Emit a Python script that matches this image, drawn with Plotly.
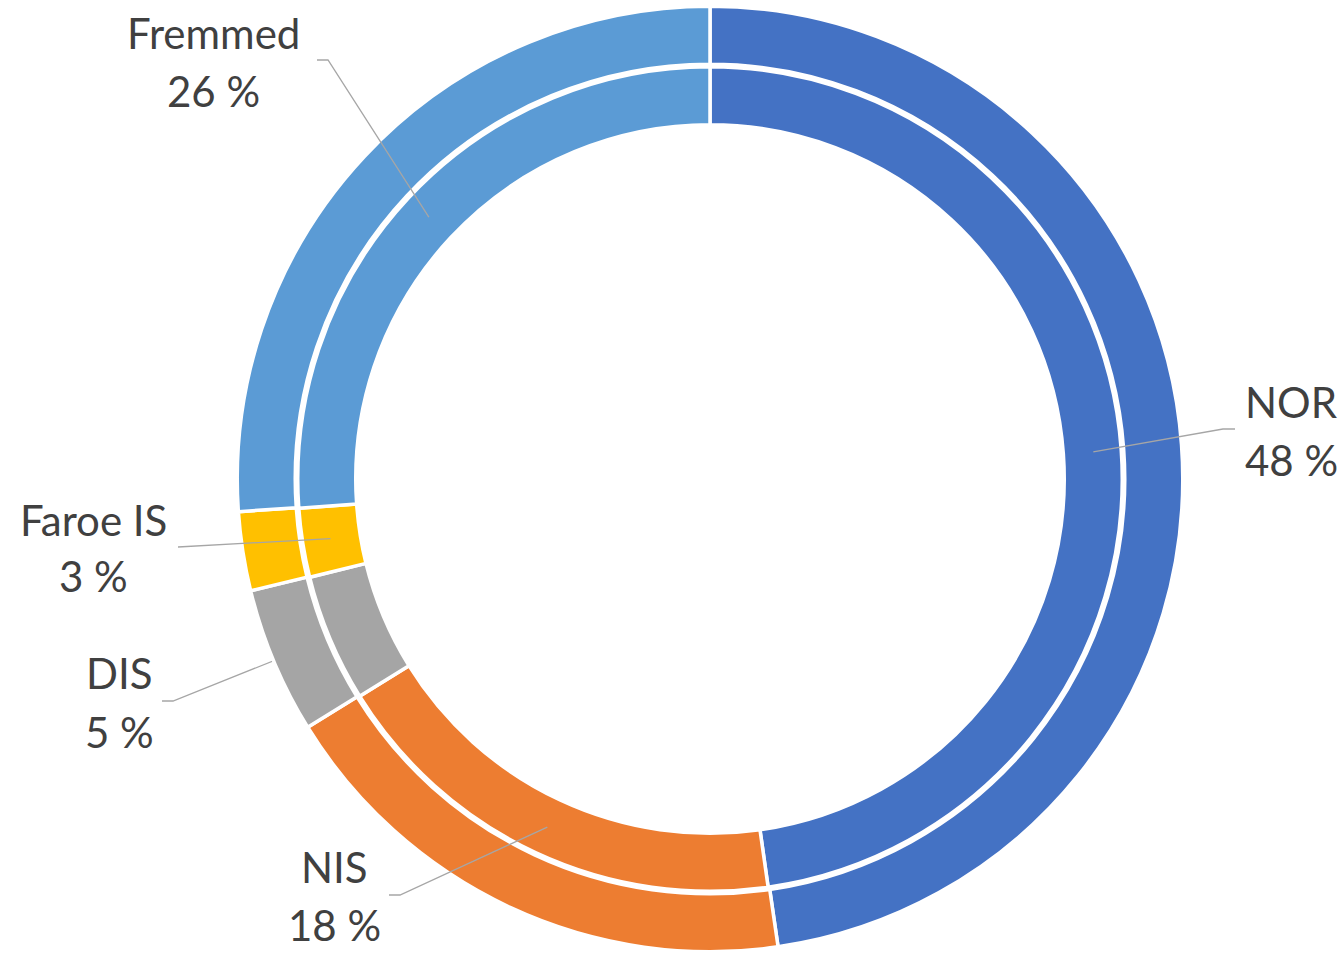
"""Dobbel smultringdiagram — fordeling på register (ytre og indre ring)"""
import math

import plotly.graph_objects as go

# ── Data ──
kategorier = ["NOR", "NIS", "DIS", "Faroe IS", "Fremmed"]
ytre_andel = [47.7, 18.5, 5.0, 2.7, 26.1]
indre_andel = [47.7, 18.4, 5.0, 2.7, 26.1]
farger = ["#4472C4", "#ED7D31", "#A5A5A5", "#FFC000", "#5B9BD5"]

# ── Geometri (piksler) ──
W, H = 1344, 953
CX, CY = 710, 479
R_YTRE, HULL_YTRE = 472.75, 414.75
R_INDRE, HULL_INDRE = 412.25, 354.25
STREK = 3.5

# etikettplassering: (tekst x, navn y, verdi y, start linje, knekkpunkt, under ring?)
etikett_pos = {
    "NOR": (1291, 402, 460, (1235, 429), (1223, 429), False),
    "NIS": (334, 867, 925, (389, 895), (400, 895), False),
    "DIS": (119, 673, 732, (162, 701), (173, 701), True),
    "Faroe IS": (93, 520, 576, (178, 547), (178, 547), False),
    "Fremmed": (213, 33, 91, (317, 60), (328, 60), False),
}


def px(x, y):
    """piksel -> paper-koordinat"""
    return x / W, 1 - y / H


def domene(r):
    x0, y0 = px(CX - r, CY + r)
    x1, y1 = px(CX + r, CY - r)
    return dict(x=[x0, x1], y=[y0, y1])


fig = go.Figure()

for verdier, r, hull in [(ytre_andel, R_YTRE, HULL_YTRE), (indre_andel, R_INDRE, HULL_INDRE)]:
    fig.add_trace(go.Pie(
        labels=kategorier,
        values=verdier,
        hole=hull / r,
        domain=domene(r),
        sort=False,
        direction="clockwise",
        rotation=0,
        marker=dict(colors=farger, line=dict(color="white", width=STREK)),
        textinfo="none",
        hoverinfo="label+percent",
        showlegend=False,
    ))

# ── Etiketter og ledelinjer ──
total = sum(indre_andel)
r_midt = (R_INDRE + HULL_INDRE) / 2 + 1
akk = 0.0
for navn, verdi in zip(kategorier, indre_andel):
    midt = (akk + verdi / 2) / total * 2 * math.pi
    akk += verdi
    ex = CX + r_midt * math.sin(midt)
    ey = CY - r_midt * math.cos(midt)

    tx, ny, vy, start, knekk, under = etikett_pos[navn]
    punkter = [px(*start), px(*knekk), px(ex, ey)]
    sti = "M " + " L ".join(f"{a:.5f},{b:.5f}" for a, b in punkter)
    fig.add_shape(
        type="path", path=sti, xref="paper", yref="paper",
        line=dict(color="#A6A6A6", width=1.3),
        layer="below" if under else "above",
    )

    for tekst, ty in [(navn, ny), (f"{round(verdi)} %", vy)]:
        ax, ay = px(tx, ty)
        fig.add_annotation(
            x=ax, y=ay, xref="paper", yref="paper",
            text=tekst, showarrow=False,
            xanchor="center", yanchor="middle",
            font=dict(family="Lato, Calibri, sans-serif", size=42, color="#404040"),
        )

fig.update_layout(
    width=W,
    height=H,
    paper_bgcolor="white",
    plot_bgcolor="white",
    margin=dict(l=0, r=0, t=0, b=0),
    showlegend=False,
)

# fjern standardmargen i nettleseren slik at figuren fyller vinduet
fig.write_html(
    "out.html",
    config={"displayModeBar": False},
    post_script="document.body.style.margin='0';",
)
